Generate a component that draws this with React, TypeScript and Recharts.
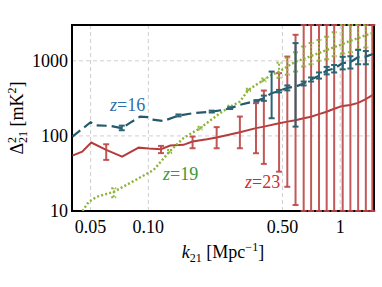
import React from "react";
import { ComposedChart, Line, Scatter, ErrorBar, XAxis, YAxis, CartesianGrid, ReferenceArea, Customized } from "recharts";

// axis ticks
const xTicks = [0.05, 0.1, 0.5, 1];
const xTickLabels = ["0.05", "0.10", "0.50", "1"];
const yTicks = [10, 50, 100, 500, 1000];
const X_DOMAIN = [0.04, 1.5];
const Y_DOMAIN = [10, 3000];

// z = 16 (dashed)
const k16 = [0.0402, 0.05, 0.0537, 0.0635, 0.0727, 0.0806, 0.0906, 0.0988, 0.105, 0.12, 0.1436, 0.172, 0.214, 0.246, 0.267, 0.3, 0.366, 0.4, 0.439, 0.48, 0.53, 0.585, 0.645, 0.705, 0.775, 0.85, 0.93, 1.03, 1.13, 1.24, 1.36, 1.48];
const p16 = [98, 152, 138, 136, 127, 150, 181, 178, 165, 158, 187, 201, 211, 222, 234, 259, 293, 318, 371, 395, 437, 454, 498, 563, 631, 743, 789, 931, 962, 1119, 1140, 1230];
const ek16 = [0.0727, 0.1436, 0.214, 0.267, 0.366, 0.4, 0.439, 0.48, 0.53, 0.585, 0.645, 0.705, 0.775, 0.85, 0.93, 1.03, 1.13, 1.24, 1.36];
const ev16 = [127, 187, 211, 234, 293, 318, 371, 395, 437, 454, 498, 563, 631, 743, 789, 931, 962, 1119, 1140];
const elo16 = [119, 182, 205, 228, 287, 293, 172, 380, 404, 133, 470, 530, 580, 660, 700, 770, 790, 900, 900];
const ehi16 = [137, 193, 217, 240, 300, 344, 719, 410, 470, 1722, 530, 600, 700, 830, 880, 1130, 1150, 1400, 1350];

// z = 19 (dotted)
const k19 = [0.044, 0.049, 0.054, 0.066, 0.0873, 0.1065, 0.129, 0.152, 0.186, 0.2366, 0.266, 0.3, 0.332, 0.4, 0.439, 0.48, 0.53, 0.585, 0.645, 0.705, 0.775, 0.85, 0.93, 1.03, 1.13, 1.24, 1.36, 1.48];
const p19 = [9, 13.3, 15.5, 18, 26.5, 35.2, 62, 93, 127, 201, 244, 286, 410, 558, 650, 719, 840, 977, 1060, 1160, 1270, 1390, 1520, 1680, 1850, 2000, 2200, 2340];
const ek19 = [0.066, 0.129, 0.186, 0.266, 0.332, 0.4, 0.48, 0.53, 0.585, 0.645, 0.705, 0.775, 0.85, 0.93, 1.03, 1.13, 1.24, 1.36];
const ev19 = [18, 62, 127, 244, 410, 558, 719, 840, 977, 1060, 1160, 1270, 1390, 1520, 1680, 1850, 2000, 2200];
const elo19 = [15.2, 59, 122, 235, 395, 535, 593, 650, 720, 840, 900, 1000, 1050, 1150, 1250, 1300, 1400, 1500];
const ehi19 = [20.1, 65, 132, 253, 425, 580, 940, 1100, 1300, 1549, 1722, 1900, 2100, 2400, 3000, 3500, 4000, 5000];

// z = 23 (solid)
const k23 = [0.0402, 0.0452, 0.0504, 0.0603, 0.073, 0.089, 0.1004, 0.1164, 0.13, 0.1525, 0.17, 0.202, 0.227, 0.3, 0.364, 0.4, 0.48, 0.53, 0.585, 0.645, 0.705, 0.775, 0.85, 0.93, 1.03, 1.13, 1.24, 1.36, 1.48];
const p23 = [54.6, 61.8, 81.5, 65, 53, 69.8, 67.8, 66.5, 74.3, 76, 84, 90, 95, 112, 127, 133, 147, 155, 162, 172, 180, 195, 210, 230, 251, 258, 275, 310, 352];
const ek23 = [0.0603, 0.1164, 0.17, 0.227, 0.3, 0.364, 0.4, 0.48, 0.53, 0.585, 0.645, 0.705, 0.775, 0.85, 0.93, 1.03, 1.13, 1.24, 1.36, 1.47];
const ev23 = [65, 66.5, 84, 95, 112, 127, 133, 147, 155, 162, 172, 180, 195, 210, 230, 251, 258, 275, 310, 350];
const elo23 = [47.9, 59, 68.5, 68.5, 68.5, 58.8, 42.4, 33.4, 21, 12, 2, 2, 2, 2, 2, 2, 2, 2, 2, 2];
const ehi23 = [77.4, 73.6, 98, 131, 181, 273, 402, 685, 1140, 2222, 9000, 9000, 9000, 9000, 9000, 9000, 9000, 9000, 9000, 9000];

const line = (k: number[], v: number[]) => k.map((x, i) => ({ k: x, v: v[i] }));
// error bars running past the frame are cut at the axis limits (caps hidden under the frame)
const errs = (k: number[], v: number[], lo: number[], hi: number[]) =>
  k.map((x, i) => ({
    k: x,
    v: v[i],
    err: [v[i] - Math.max(lo[i], Y_DOMAIN[0]), Math.min(hi[i], Y_DOMAIN[1]) - v[i]],
  }));

const d16 = line(k16, p16);
const d19 = line(k19, p19);
const d23 = line(k23, p23);
const e16 = errs(ek16, ev16, elo16, ehi16);
const e19 = errs(ek19, ev19, elo19, ehi19);
const e23 = errs(ek23, ev23, elo23, ehi23);

const FONT = "'Liberation Serif', 'DejaVu Serif', serif";
const tickStyle = { fill: "#000", fontSize: 18, fontFamily: FONT };

const RED = "#b43c3c";
const BLUE = "#235a6a";
const GREEN = "#8db43a";

const noShape = () => <g />;

const YLabel = ({ viewBox }: any) => {
  const cy = viewBox.y + viewBox.height / 2;
  return (
    <text transform={`translate(23, ${cy}) rotate(-90)`} textAnchor="middle" fontFamily={FONT} fontSize={18} fill="#000">
      Δ<tspan fontSize={12} dy={-7}>2</tspan>
      <tspan fontSize={12} dx={-6} dy={11}>21</tspan>
      <tspan dy={-4}> [mK</tspan>
      <tspan fontSize={12} dy={-7}>2</tspan>
      <tspan dy={7}>]</tspan>
    </text>
  );
};

const XLabel = ({ viewBox }: any) => {
  const cx = viewBox.x + viewBox.width / 2;
  return (
    <text x={cx} y={viewBox.y + 47} textAnchor="middle" fontFamily={FONT} fontSize={18} fill="#000">
      <tspan fontStyle="italic">k</tspan>
      <tspan fontSize={12} dy={4}>21</tspan>
      <tspan dy={-4}> [Mpc</tspan>
      <tspan fontSize={12} dy={-7}>−1</tspan>
      <tspan dy={7}>]</tspan>
    </text>
  );
};

const Annotations = () => (
  <g fontFamily={FONT} fontSize={18}>
    <text x={110} y={111} fill="#2c70a8">
      <tspan fontStyle="italic">z</tspan>=16
    </text>
    <text x={163} y={180} fill="#3a9a3a">
      <tspan fontStyle="italic">z</tspan>=19
    </text>
    <text x={245} y={188} fill="#cc2e2e">
      <tspan fontStyle="italic">z</tspan>=23
    </text>
  </g>
);

export default function App() {
  return (
    <div style={{ position: "absolute", left: 0, top: 0, width: 382, height: 287 }}>
      <ComposedChart width={382} height={287} margin={{ top: 25, right: 8, left: 0, bottom: 0 }}>
        <CartesianGrid stroke="#cfcfcf" strokeDasharray="4 3" strokeWidth={1} />
        <XAxis
          dataKey="k"
          type="number"
          scale="log"
          domain={X_DOMAIN}
          allowDataOverflow
          ticks={xTicks}
          tickFormatter={(v: number) => xTickLabels[xTicks.indexOf(v)] ?? String(v)}
          height={76}
          axisLine={false}
          tickLine={false}
          tickSize={6}
          tickMargin={3}
          tick={tickStyle}
          label={<XLabel />}
        />
        <YAxis
          dataKey="v"
          type="number"
          scale="log"
          domain={Y_DOMAIN}
          allowDataOverflow
          ticks={yTicks}
          width={72}
          axisLine={false}
          tickLine={false}
          tickSize={2}
          tickMargin={2}
          tick={tickStyle}
          label={<YLabel />}
        />

        <Line data={d23} dataKey="v" stroke={RED} strokeWidth={2} dot={false} isAnimationActive={false} />
        <Scatter data={e23} dataKey="v" shape={noShape} isAnimationActive={false}>
          <ErrorBar dataKey="err" direction="y" width={3} stroke="#bc4646" strokeOpacity={0.9} strokeWidth={2} isAnimationActive={false} />
        </Scatter>

        <Line data={d19} dataKey="v" stroke={GREEN} strokeWidth={2.4} strokeDasharray="2 2.2" dot={false} isAnimationActive={false} />
        <Scatter data={e19} dataKey="v" shape={noShape} isAnimationActive={false}>
          <ErrorBar dataKey="err" direction="y" width={2.5} stroke={GREEN} strokeWidth={2} strokeDasharray="2 2" isAnimationActive={false} />
        </Scatter>

        <Line data={d16} dataKey="v" stroke={BLUE} strokeWidth={2.2} strokeDasharray="10 5" dot={false} isAnimationActive={false} />
        <Scatter data={e16} dataKey="v" shape={noShape} isAnimationActive={false}>
          <ErrorBar dataKey="err" direction="y" width={3} stroke="#2b6474" strokeWidth={2} isAnimationActive={false} />
        </Scatter>

        <ReferenceArea x1={X_DOMAIN[0]} x2={X_DOMAIN[1]} y1={Y_DOMAIN[0]} y2={Y_DOMAIN[1]} fill="none" stroke="#000" strokeWidth={2} ifOverflow="visible" />
        <Customized component={Annotations} />
      </ComposedChart>
    </div>
  );
}
